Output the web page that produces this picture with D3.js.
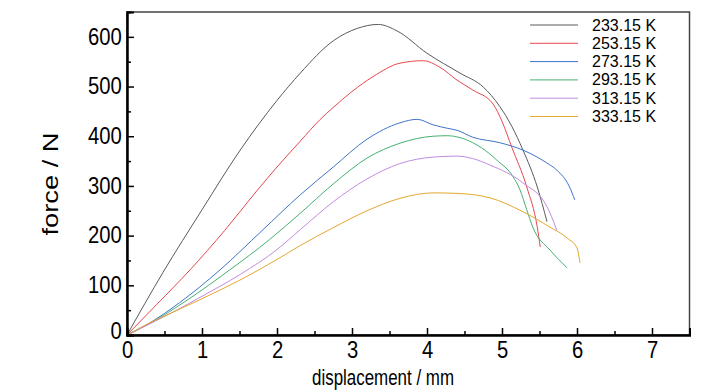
<!DOCTYPE html>
<html>
<head>
<meta charset="utf-8">
<script src="https://cdn.jsdelivr.net/npm/d3@7"></script>
<style>
  body { margin: 0; background: #fff; }
  text { font-family: "Liberation Sans", Arial, sans-serif; fill: #000; }
</style>
</head>
<body>
<svg class="main"></svg>
<script>
// series labels + colours
let labels = ['233.15 K', '253.15 K', '273.15 K', '293.15 K', '313.15 K', '333.15 K'];
let colors = ['#5a5a5a', '#e5484d', '#3f74c8', '#45b072', '#c28ce0', '#e3a72f'];

// [displacement mm, force N]
let k233 = [[0,0],[0.48,126],[1.0,252],[1.5,370],[2.0,472],[2.31,527],[2.75,592],[3.07,617],[3.35,625],[3.6,612],[4.0,567],[4.44,527],[4.75,499],[4.97,460],[5.13,420],[5.28,372],[5.47,298],[5.6,228]];
let k253 = [[0,0],[0.4,62],[0.84,131],[1.3,210],[1.73,290],[2.0,338],[2.31,390],[2.57,433],[2.75,458],[3.0,490],[3.28,520],[3.64,547],[3.95,552],[4.17,539],[4.4,513],[4.61,493],[4.88,465],[5.0,430],[5.13,378],[5.33,298],[5.47,217],[5.51,177]];
let k273 = [[0,0],[0.3,24],[0.7,65],[1.24,131],[1.8,210],[2.31,282],[2.75,338],[3.2,394],[3.64,427],[3.87,434],[4.08,423],[4.27,416],[4.4,412],[4.61,398],[4.97,387],[5.28,372],[5.6,346],[5.73,332],[5.9,298],[5.97,272]];
let k293 = [[0,0],[0.3,23],[0.8,70],[1.37,131],[1.9,192],[2.31,245],[2.75,304],[3.2,356],[3.64,386],[4.08,400],[4.27,401],[4.61,387],[4.84,364],[4.93,352],[5.15,318],[5.24,292],[5.33,252],[5.41,217],[5.64,171],[5.87,135]];
let k313 = [[0,0],[0.3,22],[0.6,45],[1.0,78],[1.51,122],[2.0,172],[2.31,212],[2.75,268],[3.2,314],[3.64,345],[4.08,358],[4.4,360],[4.61,355],[4.84,342],[5.28,306],[5.6,258],[5.68,231],[5.73,211]];
let k333 = [[0,0],[0.3,24],[0.6,45],[1.0,73],[1.5,110],[2.0,152],[2.31,180],[2.75,216],[3.2,250],[3.64,275],[4.08,286],[4.4,285],[4.84,276],[5.28,248],[5.64,217],[5.87,195],[6.0,175],[6.04,145]];
let series = [k233, k253, k273, k293, k313, k333];

let xTicks = [0,1,2,3,4,5,6,7];
let yTicks = [0,100,200,300,400,500,600];

let w = 728, h = 390;
let pLeft = 127, pRight = 689.5, pTop = 12, pBottom = 335;

let svg = d3.select('.main')
  .attr('width', w)
  .attr('height', h)
  .style('background-color', '#fff');

let x = d3.scaleLinear().domain([0, 7.5]).range([pLeft, pRight]);
let y = d3.scaleLinear().domain([0, 650]).range([pBottom, pTop]);

// frame
svg.append('rect')
  .attr('x', pLeft).attr('y', pTop)
  .attr('width', pRight - pLeft).attr('height', pBottom - pTop)
  .attr('fill', 'none').attr('stroke', '#444').attr('stroke-width', 1.5);

// curves
let line = d3.line()
  .x(d => x(d[0]))
  .y(d => y(d[1]))
  .curve(d3.curveMonotoneX);

svg.append('g').selectAll('path')
  .data(series)
  .enter()
  .append('path')
  .attr('d', line)
  .attr('fill', 'none')
  .attr('stroke', (d, i) => colors[i])
  .attr('stroke-width', 1);

// minor ticks
let xMinor = d3.axisBottom(x).tickValues(d3.range(0.5, 7.5, 1)).tickSize(-4).tickFormat('');
let yMinor = d3.axisLeft(y).tickValues(d3.range(50, 650, 100)).tickSize(-4).tickFormat('');
svg.append('g').attr('transform', `translate(0,${pBottom})`).call(xMinor);
svg.append('g').attr('transform', `translate(${pLeft},0)`).call(yMinor);

// major axes
let xAxis = svg.append('g')
  .attr('transform', `translate(0,${pBottom})`)
  .call(d3.axisBottom(x).tickValues(xTicks).tickSize(-7).tickPadding(6).tickFormat(d3.format('d')));
let yAxis = svg.append('g')
  .attr('transform', `translate(${pLeft},0)`)
  .call(d3.axisLeft(y).tickValues(yTicks).tickSize(-7).tickPadding(6).tickFormat(d3.format('d')));

svg.selectAll('.domain').attr('stroke', '#000').attr('stroke-width', 2);
svg.selectAll('.tick line').attr('stroke', '#000').attr('stroke-width', 1.5);
// labels in the picture are a bit condensed
xAxis.selectAll('text').style('font-size', '23px').attr('dy', '0.72em').attr('transform', 'scale(0.88,1)');
yAxis.selectAll('text').style('font-size', '23px').attr('transform', 'scale(0.88,1)');
yAxis.selectAll('.tick').filter(d => d === 0).select('text').attr('dy', '0.15em');

// axis titles
svg.append('text')
  .attr('x', 383)
  .attr('y', 385)
  .attr('text-anchor', 'middle')
  .style('font-size', '22px')
  .attr('textLength', 142).attr('lengthAdjust', 'spacingAndGlyphs')
  .text('displacement / mm');

svg.append('text')
  .attr('transform', `translate(58,184) rotate(-90)`)
  .attr('text-anchor', 'middle')
  .style('font-size', '22px')
  .attr('textLength', 103).attr('lengthAdjust', 'spacingAndGlyphs')
  .text('force  / N');

// legend
let legend = svg.append('g');
labels.forEach((lab, i) => {
  let ly = 25 + i * 18.3;
  legend.append('line')
    .attr('x1', 530).attr('x2', 578)
    .attr('y1', ly).attr('y2', ly)
    .attr('stroke', colors[i]).attr('stroke-width', 1);
  legend.append('text')
    .attr('x', 592).attr('y', ly + 5.5)
    .style('font-size', '16px')
    .text(lab);
});
</script>
</body>
</html>
